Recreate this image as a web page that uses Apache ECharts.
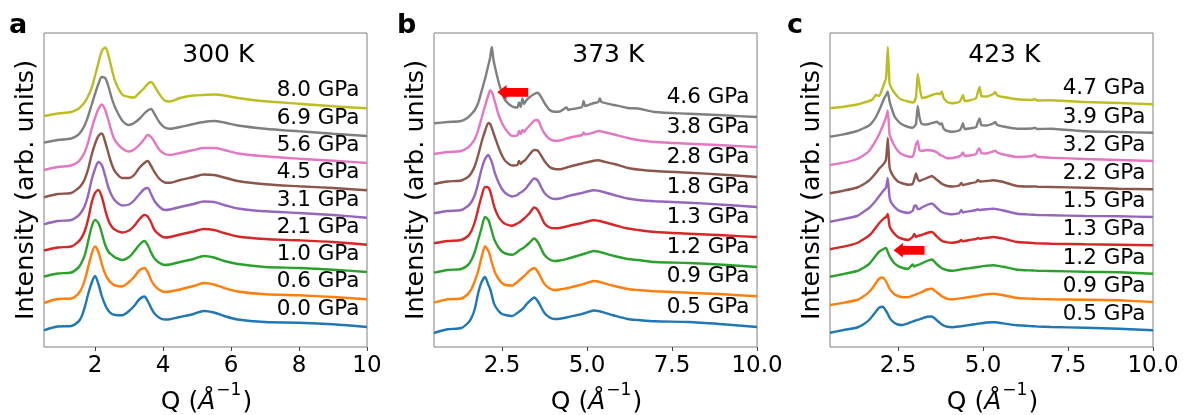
<!DOCTYPE html>
<html>
<head>
<meta charset="utf-8">
<script src="https://cdn.jsdelivr.net/npm/echarts@6/dist/echarts.min.js"></script>
<style>
html, body { margin: 0; padding: 0; background: #fff; }
#chart { width: 1183px; height: 415px; }
</style>
</head>
<body>
<div id="chart"></div>
<script>
// ---------- Q grids (Å^-1) ----------
const qA = [0.5, 0.9, 1.3, 1.5, 1.6, 1.7, 1.8, 1.9, 2.0, 2.1, 2.2, 2.3, 2.4, 2.5, 2.6, 2.8, 3.0, 3.15, 3.3, 3.45, 3.55, 3.65, 3.75, 3.9, 4.05, 4.2, 4.5, 4.9, 5.2, 5.5, 5.8, 6.2, 7.0, 8.0, 9.0, 10.0];
const qB = [0.5, 0.9, 1.3, 1.5, 1.6, 1.7, 1.8, 1.9, 2.0, 2.1, 2.15, 2.2, 2.25, 2.3, 2.4, 2.5, 2.6, 2.8, 2.95, 3.0, 3.05, 3.1, 3.15, 3.2, 3.3, 3.45, 3.55, 3.65, 3.75, 3.9, 4.05, 4.2, 4.4, 4.45, 4.5, 4.85, 4.9, 4.95, 5.2, 5.33, 5.38, 5.43, 5.8, 6.2, 6.5, 7.0, 8.0, 9.0, 10.0];
const qC = [0.5, 0.9, 1.3, 1.5, 1.65, 1.75, 1.85, 1.95, 2.05, 2.1, 2.15, 2.2, 2.25, 2.3, 2.4, 2.5, 2.6, 2.8, 2.93, 2.98, 3.03, 3.08, 3.13, 3.2, 3.35, 3.5, 3.65, 3.74, 3.79, 3.84, 3.95, 4.1, 4.3, 4.36, 4.41, 4.46, 4.6, 4.8, 4.85, 4.9, 4.95, 5.1, 5.3, 5.36, 5.42, 5.6, 6.0, 6.45, 6.52, 6.6, 7.0, 8.0, 9.0, 10.0];

// ---------- pressures (GPa) ----------
const pressA = ['0.0', '0.6', '1.0', '2.1', '3.1', '4.5', '5.6', '6.9', '8.0'];
const pressB = ['0.5', '0.9', '1.2', '1.3', '1.8', '2.8', '3.8', '4.6'];
const pressC = ['0.5', '0.9', '1.2', '1.3', '1.5', '2.2', '3.2', '3.9', '4.7'];

// ---------- stacked intensities, 300 K (arb. units) ----------
const a0_0 = [16.7, 20.5, 21, 25, 30, 40, 53, 64, 71, 63, 51, 42, 36, 33, 32, 31.8, 36, 41, 47.5, 50.5, 46, 39, 33.5, 29, 27.5, 27.8, 30, 33, 36, 34.5, 31, 27.5, 25, 24.3, 22.7, 20];
const a0_6 = [44, 48, 48.5, 53, 58, 67, 80, 93, 100.5, 95, 83, 73, 67, 63.5, 61.5, 60.5, 65, 70, 76.5, 79, 75, 67, 61.5, 57, 55, 55.5, 57.5, 61, 64, 62.5, 59, 55.5, 52.7, 51.7, 50, 47.7];
const a1_0 = [70.5, 73.5, 74.5, 79, 84, 92, 106, 120, 127, 124, 114, 102, 95, 92, 89.5, 87, 90, 95.5, 102, 106, 102, 94.5, 88.5, 84, 82, 82.5, 85, 88, 91, 89.5, 86, 83, 80, 79, 77.3, 75];
const a2_1 = [96.5, 99.5, 100.5, 105, 109, 116, 128, 144, 154, 157, 150, 137, 126, 120, 117, 114.5, 116.5, 121, 127.5, 132, 130.5, 124.5, 117, 112, 109.5, 110, 112.5, 115.5, 118, 117, 114, 110.5, 108, 106.7, 105, 102.3];
const a3_1 = [122.7, 126, 127, 131, 135, 141, 152, 167, 178, 185, 182, 171, 159, 151, 146, 141.5, 142.5, 146.5, 152.5, 158, 159, 153, 146, 140, 137, 137.5, 140, 143, 145.5, 145, 142, 138.5, 135.7, 134, 132, 129.3];
const a4_5 = [149.7, 153, 154, 158.5, 162, 168, 178, 192, 203, 211, 213.5, 205, 193, 182, 175, 169, 169, 172, 179, 184, 186, 181, 175, 168, 164.5, 164.3, 167, 170, 172.5, 172, 169.5, 166, 162.7, 160.7, 159, 156.7];
const a5_6 = [177, 180, 181.5, 185, 189, 195, 205, 218, 229, 238, 242.5, 237, 226, 214, 206, 198.5, 195.5, 197.5, 202, 208, 212, 210, 205, 197, 193, 192, 194, 197, 199, 199, 197, 193.5, 190.7, 188.3, 186.3, 184];
const a6_9 = [204.3, 207, 208.5, 212, 216, 222, 231, 242, 253, 263, 270, 269, 260, 248, 239, 226.5, 222, 224, 228, 233.5, 236.5, 238, 233, 224.5, 219.5, 218.3, 220, 223, 225, 226, 224.5, 221.5, 218.3, 215.7, 213.3, 211];
const a8_0 = [231, 233.5, 235, 238, 241, 245, 251, 259, 271, 284, 296, 299.5, 291, 277, 265, 252.5, 250, 249.5, 254, 259, 263, 265, 261, 252.5, 246.5, 245.5, 249, 251.5, 252, 252.5, 251.5, 249, 245.7, 243.3, 240.7, 238.7];

// ---------- stacked intensities, 373 K ----------
const b0_5 = [14, 17.7, 19, 24, 29, 38, 54, 65, 70, 62, 58, 52, 45, 41, 36, 33, 32, 31, 34, 35.3, 36.5, 38, 39.5, 42, 45.5, 49.5, 46, 40, 34, 29.5, 28, 28.3, 29.5, 30, 30.3, 33, 33.5, 34, 36.5, 36, 35.6, 35.2, 31.5, 28, 27, 25.7, 25, 22.7, 20];
const b0_9 = [44.3, 47.7, 48.5, 53, 58, 66, 76, 90, 100.5, 96, 91, 84.5, 79, 74, 68, 64, 62, 61.5, 65, 66.5, 68, 69.5, 71, 72.5, 76, 79, 75.5, 69, 63, 58.5, 57, 57.5, 58.7, 59, 59.5, 62.5, 63, 63.5, 66, 65.5, 65, 64.5, 61, 58, 57, 55.7, 54.3, 52.7, 50.7];
const b1_2 = [74.3, 77, 78, 82, 87, 95, 107, 119, 130, 127, 122, 116, 110, 105.5, 99.5, 95.5, 93.5, 92.2, 95, 96.5, 97.5, 98.5, 99.5, 101, 104, 108.5, 105, 98.5, 92, 87.5, 86, 86.5, 88, 88.5, 89, 92.5, 93, 93.5, 96, 95.5, 95, 94.5, 91, 88, 87, 85, 84, 82.3, 80];
const b1_3 = [103.7, 106, 107, 111, 116, 125, 138, 151, 160, 159.5, 156, 150, 143, 137.5, 130, 125.5, 123, 121.2, 123.5, 124.5, 125.5, 127, 128.5, 130, 133.5, 139.5, 137, 130.5, 123.5, 119.5, 118.7, 119, 120.5, 121, 121.5, 124, 124.5, 125, 126.7, 126.3, 126, 125.5, 122, 118.5, 117, 115, 113.3, 111.7, 110];
const b1_8 = [133.7, 136, 137, 141, 145, 152, 164, 178, 188, 192, 189, 185, 179, 173, 164.5, 158, 154, 150.5, 152, 153.5, 154.5, 155.5, 157, 158.5, 163, 168.5, 166.5, 160, 154, 149.5, 148, 148.5, 150.5, 151, 151.5, 154, 154.5, 155, 156.7, 156.3, 156, 155.5, 152, 148.5, 147, 145.7, 144.3, 142.3, 140];
const b2_8 = [163, 165.5, 166.5, 170, 174, 181, 192, 205, 216, 224, 223, 219, 214, 209, 199.5, 191.5, 186, 181.5, 182, 186, 183, 185, 186, 187.5, 192, 197, 196.5, 191.5, 186, 180, 178, 177.8, 179.5, 180, 180.5, 183.5, 184, 184.3, 186.3, 186.7, 186.5, 186, 183, 179, 177.5, 176, 174.3, 172.3, 170];
const b3_8 = [193, 195, 196, 199.5, 203, 208, 217, 229, 241, 252, 256.5, 255, 250, 244, 232, 224, 218, 211, 211.5, 216, 213, 217, 215, 217.5, 221, 226.5, 227, 220, 213.5, 208, 206.3, 206.5, 208.5, 209, 209.5, 212, 214.5, 212.5, 214.5, 216, 216, 215.5, 212.5, 209, 207, 205, 203.3, 201.7, 200];
const b4_6 = [223.7, 225, 226, 229.5, 233, 237, 244, 256, 268, 282, 289, 300, 287, 279, 265, 254, 246.5, 240.5, 239.5, 244.5, 240, 248.5, 243, 246, 249.5, 253, 254.3, 250, 244, 237, 235.3, 235.5, 239.5, 237, 237.5, 240, 246, 241, 244, 245, 248.5, 245, 242, 239, 238.5, 235, 233.3, 231.7, 230];

// ---------- stacked intensities, 423 K ----------
const c0_5 = [14.3, 17, 19.5, 23, 27, 31, 35.5, 39.5, 40.3, 38.5, 36, 33, 29.5, 27, 24, 22.5, 22, 23.7, 25.5, 26, 26.7, 27.2, 27.7, 28.5, 30.3, 30.5, 26.5, 23.8, 22.5, 21.5, 20.2, 19.8, 20.5, 20.8, 21, 21.3, 22, 23, 23.3, 23.5, 23.8, 24.5, 24.8, 24.7, 24.5, 23.6, 21.7, 20.8, 20.7, 20.5, 20, 19.3, 18.3, 16.7];
const c0_9 = [42, 44.3, 47, 51, 55, 59, 64, 68.5, 69.5, 68, 65.5, 62, 58.5, 56, 52.5, 51, 50, 49.8, 51.3, 52, 52.7, 53.3, 54, 55, 57.5, 58.3, 54.5, 52, 50.8, 49.8, 48.2, 47.7, 48.5, 48.8, 49, 49.3, 50, 51, 51.3, 51.6, 52, 52.8, 53.2, 53, 52.8, 51.8, 49, 48.3, 48.2, 48, 47.7, 47.3, 46.7, 45];
const c1_2 = [70.3, 73, 76, 79.5, 83, 87, 91.5, 95.5, 97.5, 98.5, 99, 95, 91, 88, 83.5, 81, 79.5, 78, 82.5, 80.5, 81.5, 82, 82.5, 83.7, 86, 87.5, 82.5, 80, 78.8, 78, 76.8, 76.3, 77.2, 77.6, 78, 78.3, 78.8, 79.8, 80, 80.3, 80.6, 81.2, 81.7, 81.5, 81.2, 80.2, 77.3, 76.5, 76.4, 76.3, 76, 75.3, 74.7, 73.3];
const c1_3 = [97.7, 100.3, 104, 108, 111.5, 115, 119.5, 124, 127.5, 129, 130, 133, 121, 117.5, 113, 110, 108.5, 107, 110, 113, 110, 111, 111.5, 112, 114, 115, 110.3, 107.5, 106.3, 105.5, 104.6, 104.3, 105.5, 107, 105.5, 106, 107, 108, 109, 108.3, 108.5, 109.2, 110, 109.8, 109.5, 108.3, 105, 104, 103.8, 103.6, 103.3, 102.7, 102.3, 101.7];
const c1_5 = [125.3, 128, 131, 135.5, 139, 142.5, 146.5, 151, 155.5, 157.5, 159.5, 169, 150, 144.5, 140, 137, 135.5, 134, 136, 141, 141.5, 138, 138, 139.5, 142, 143.5, 139, 136, 135, 134.2, 133.3, 132.7, 133.8, 137, 134.5, 135, 135.8, 137, 137.8, 137, 137.2, 137.8, 138.3, 138.1, 137.8, 136.5, 133.3, 132.3, 132.2, 132, 131.7, 131, 130.7, 130];
const c2_2 = [153.7, 156.3, 159.5, 163, 166.5, 170, 174, 178.5, 182, 184, 188, 209, 180, 174.5, 169, 165.5, 164, 162.3, 163, 168, 173.5, 168, 166, 167, 169, 171, 167, 164.5, 163.3, 162.3, 161, 160.5, 161.5, 164, 161.8, 162.3, 163.5, 165, 167, 165.5, 165.5, 166, 166.7, 166.5, 166.2, 165, 161, 160.5, 160.6, 160.3, 160, 159.3, 158.3, 157.7];
const c3_2 = [182, 184.3, 188, 192, 196, 201, 206.5, 213, 221, 225, 230, 236.5, 213, 208, 201, 196, 193, 190.5, 190.3, 195, 203, 206, 197, 196, 197, 196.5, 194.5, 192, 191.3, 190.5, 188.7, 189, 190.5, 192, 194.5, 191, 191.5, 193, 197, 198.5, 194, 193.5, 195.5, 196.3, 194.5, 192.5, 190, 191, 192.3, 190.3, 189.3, 188, 187, 186];
const c3_9 = [210.3, 212.7, 216, 219, 221.5, 225, 230, 237, 245, 249, 252, 255.5, 246, 240, 230.5, 226, 223, 220, 219.3, 220.5, 223, 241, 230, 223, 222.5, 224, 225.3, 222.5, 223.7, 218.5, 216, 215.3, 216.5, 219, 223.7, 218, 218.5, 220, 225, 228.5, 222, 221.5, 223.5, 225, 222, 220.5, 218.3, 218.5, 219.3, 218, 218.3, 215.7, 215, 214.3];
const c4_7 = [238.7, 240.3, 242.5, 244.5, 246, 247.5, 252, 251, 259.5, 264, 269, 300, 264, 259.5, 254, 250, 247.5, 245.5, 244.5, 245.5, 250, 273, 262, 249, 250, 252, 253.5, 253, 255.5, 249, 245, 243.7, 245, 248, 252, 246, 246.5, 249, 255, 260, 251, 250.5, 253, 255, 251.5, 250, 247.7, 247, 248, 246.5, 246.7, 245, 244, 242.7];

// red arrows marking the first-peak shift (Q in Å^-1, height in arb. units)
const arrowB = { tail: 3.27, tip: 2.36, level: 254.7 };
const arrowC = { tail: 3.28, tip: 2.37, level: 96.7 };

const palette = ['#1f77b4', '#ff7f0e', '#2ca02c', '#d62728', '#9467bd', '#8c564b', '#e377c2', '#7f7f7f', '#bcbd22'];
const FONT = '"DejaVu Sans", "Liberation Sans", sans-serif';

const panels = [
  { q: qA, curves: [a0_0, a0_6, a1_0, a2_1, a3_1, a4_5, a5_6, a6_9, a8_0], press: pressA,
    temp: '300 K', letter: 'a', letterX: 9, ticks: [2, 4, 6, 8, 10], dec: 0, labelGap: 10, smooth: 0.3, arrow: null },
  { q: qB, curves: [b0_5, b0_9, b1_2, b1_3, b1_8, b2_8, b3_8, b4_6], press: pressB,
    temp: '373 K', letter: 'b', letterX: 397, ticks: [2.5, 5, 7.5, 10], dec: 1, labelGap: 12.5, smooth: 0.25, arrow: arrowB },
  { q: qC, curves: [c0_5, c0_9, c1_2, c1_3, c1_5, c2_2, c3_2, c3_9, c4_7], press: pressC,
    temp: '423 K', letter: 'c', letterX: 787, ticks: [2.5, 5, 7.5, 10], dec: 1, labelGap: 8, smooth: 0.12, arrow: arrowC }
];

const grids = [
  { left: 44, top: 33, width: 323, height: 314 },
  { left: 434, top: 33, width: 323, height: 314 },
  { left: 830, top: 33, width: 323, height: 314 }
];

const chart = echarts.init(document.getElementById('chart'), null, { renderer: 'canvas' });

const xAxes = panels.map((p, k) => ({
  type: 'value', gridIndex: k, min: 0.5, max: 10,
  axisLine: { show: false },
  splitLine: { show: false },
  axisTick: { show: true, length: 4, lineStyle: { color: '#444', width: 1 }, customValues: p.ticks },
  axisLabel: {
    show: true, customValues: p.ticks, margin: 8, color: '#000', fontSize: 23, fontFamily: FONT,
    formatter: v => v.toFixed(p.dec)
  }
}));
const yAxes = panels.map((p, k) => ({
  type: 'value', gridIndex: k, min: 0, max: 314, show: false
}));

const series = [];
panels.forEach((p, k) => {
  p.curves.forEach((vals, i) => {
    series.push({
      type: 'line', name: p.press[i] + ' GPa', xAxisIndex: k, yAxisIndex: k,
      data: p.q.map((x, j) => [x, vals[j]]),
      showSymbol: false, symbol: 'none', smooth: p.smooth, silent: true,
      lineStyle: { width: 2.4, color: palette[i] },
      z: 2 + i
    });
  });
});

chart.setOption({
  animation: false,
  textStyle: { fontFamily: FONT },
  grid: grids.map(g => Object.assign({ show: true, borderColor: '#808080', borderWidth: 1, backgroundColor: 'transparent' }, g)),
  xAxis: xAxes,
  yAxis: yAxes,
  series: series
});

// ---------- annotations ----------
const measure = document.createElement('canvas').getContext('2d');
function textWidth(s, font) { measure.font = font; return measure.measureText(s).width; }
const MID = 0.346; // em distance from canvas 'middle' to the alphabetic baseline

function textAt(x, baseline, s, size, opts) {
  opts = opts || {};
  return {
    type: 'text', x: x, y: baseline - MID * size, z: 100, silent: true,
    style: {
      text: s, fontSize: size, fontFamily: FONT, fontWeight: opts.weight || 'normal',
      fontStyle: opts.style || 'normal', fill: '#000',
      align: opts.align || 'left', verticalAlign: 'middle'
    }
  };
}

const graphics = [];
panels.forEach((p, k) => {
  const g = grids[k];
  // panel letter
  graphics.push(textAt(p.letterX, 35, p.letter, 27, { weight: 'bold' }));
  // temperature
  graphics.push(textAt(g.left + 174.3, 64, p.temp, 25, { align: 'center' }));
  // pressure labels above each curve's right end
  p.curves.forEach((vals, i) => {
    const pt = chart.convertToPixel({ gridIndex: k }, [10, vals[vals.length - 1] + p.labelGap]);
    graphics.push(textAt(pt[0] - 7.5, pt[1], p.press[i] + ' GPa', 21.5, { align: 'right' }));
  });
  // y-axis title
  graphics.push({
    type: 'text', x: g.left - 17.8, y: g.top + g.height / 2, rotation: Math.PI / 2, z: 100, silent: true,
    style: { text: 'Intensity (arb. units)', fontSize: 25.5, fontFamily: FONT, fill: '#000', align: 'center', verticalAlign: 'middle' }
  });
  // x-axis title: Q (Å^-1)
  const fMain = '25px ' + FONT, fIt = 'italic 25px ' + FONT, fSup = '17px ' + FONT;
  const w1 = textWidth('Q (', fMain), w2 = textWidth('Å', fIt), w3 = textWidth('−1', fSup), w4 = textWidth(')', fMain);
  const total = w1 + w2 + w3 + w4 + 2;
  let x0 = g.left + g.width / 2 + 1 - total / 2;
  graphics.push(textAt(x0, 411.3, 'Q (', 25));
  graphics.push(textAt(x0 + w1, 411.3, 'Å', 25, { style: 'italic' }));
  graphics.push(textAt(x0 + w1 + w2 + 1, 396, '−1', 17));
  graphics.push(textAt(x0 + w1 + w2 + w3 + 2, 411.3, ')', 25));
  // arrow
  if (p.arrow) {
    const tip = chart.convertToPixel({ gridIndex: k }, [p.arrow.tip, p.arrow.level]);
    const tail = chart.convertToPixel({ gridIndex: k }, [p.arrow.tail, p.arrow.level]);
    const hl = 9.3, hh = 7.3, bh = 4.4, y = tip[1];
    graphics.push({
      type: 'polygon', z: 120, silent: true,
      shape: { points: [[tip[0], y], [tip[0] + hl, y - hh], [tip[0] + hl, y - bh], [tail[0], y - bh],
                        [tail[0], y + bh], [tip[0] + hl, y + bh], [tip[0] + hl, y + hh]] },
      style: { fill: '#ff0000' }
    });
  }
});

chart.setOption({ graphic: graphics });
</script>
</body>
</html>
